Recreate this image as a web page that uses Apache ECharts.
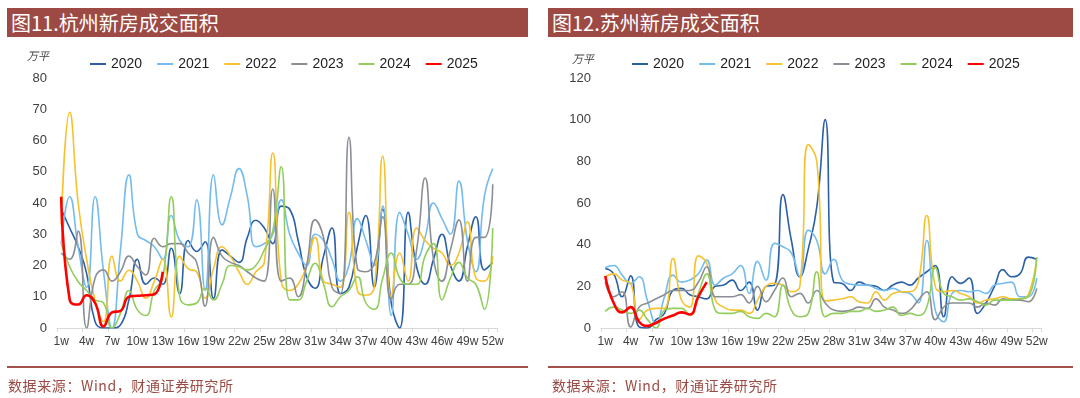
<!DOCTYPE html>
<html>
<head>
<meta charset="utf-8">
<script src="https://cdn.jsdelivr.net/npm/echarts@6/dist/echarts.min.js"></script>
<style>
  body { margin: 0; background: #fff; }
  #wrap { position: relative; width: 1080px; height: 398px; overflow: hidden; }
  #chart { position: absolute; left: 0; top: 0; width: 1080px; height: 398px; }
  .bar { position: absolute; top: 8px; height: 29px; background: #9c4a43; color: #fff;
         font: 20px "Noto Sans CJK SC"; line-height: 29px; padding-left: 4px; box-sizing: border-box; }
  .foot { position: absolute; top: 366px; height: 2px; background: #a3524b; }
  .src { position: absolute; top: 375px; font: 14px "Noto Sans CJK SC"; letter-spacing: 0.6px; color: #9c4a43; }
  .unit { position: absolute; font: italic 11px "Noto Sans CJK SC"; color: #404040; }
</style>
</head>
<body>
<div id="wrap">
  <div id="chart"></div>
  <div class="bar" style="left:7px;width:521px;">图11.杭州新房成交面积</div>
  <div class="bar" style="left:548px;width:525px;">图12.苏州新房成交面积</div>
  <div class="unit" style="left:27px;top:47px;">万平</div>
  <div class="unit" style="left:572px;top:50px;">万平</div>
  <div class="foot" style="left:7px;width:521px;"></div>
  <div class="foot" style="left:548px;width:525px;"></div>
  <div class="src" style="left:8px;">数据来源：Wind，财通证券研究所</div>
  <div class="src" style="left:552px;">数据来源：Wind，财通证券研究所</div>
</div>
<script>
// 周次
var weeks = [];
for (var i = 1; i <= 52; i++) weeks.push(i + 'w');

var years = ['2020', '2021', '2022', '2023', '2024', '2025'];
var colors = ['#2b5fa6', '#74bcee', '#f6c22e', '#8b8f95', '#92cd5d', '#ff0000'];

// 杭州 (万平)
var hz2020 = [38,32,26,17.5,2,0,0,1,9,22,14,16,14,25.5,11,28,24.5,27.6,9.5,25,23,21,29,34.5,32,27,39,38,28,16.4,12.7,23,32,11,13,26,36,13,38,8,0,37,19.6,14,22,30,20,15,26,35.6,18.6,21];
var hz2021 = [27,42,26,13,42,18,0,25,49,30,28,26,22,36,28,26,41,12,49,33,42,51,42,26,27,30,41,30,24,20,30,28,22,15,20,35,28,20,39,4,37,30,22,29,40,35,30,47,28,18,42,51];
var hz2022 = [33,69,40,22,9,2,23,15,18.5,15,9.5,15,22,3.5,23,19,18,9.5,19,26,23,18,14,18,21,56,15,12,14,20,29,15,14,13,37,12,10.5,13,55,10,24,15,32,28,25.5,24,20,24,34,16,15,23];
var hz2023 = [24,22,31,0,16,18.6,15,18,23,19.6,17,28.7,26,27,27,24,21,7,29,23,21,20,18,16,15,44.5,15,16,10,20,34.6,29,13,11,61,19,18,20.7,35.6,9,14,14,25,48,22,15,25,34.6,15,29,29,46];
var hz2024 = [27,19.6,14.8,12,9,8,0,4.7,12,5.8,4,12,16,42,10,7.4,8,12.7,9,14,20,19.6,18.6,20,25,31,51.6,9,9,15,20.7,14,6.8,10,12,16.4,8,6,16,24,16,14,14,23,27,9,16,21,16,14,6,32];
var hz2025 = [42,9,7.5,10.5,8,0.5,5,5.5,10,10.3,10.5,10.8,18];

// 苏州 (万平)
var sz2020 = [28.6,26,15,25,0.5,0,4,7,18,19,16,15,14,20,20.6,23,18,22,8.6,20,20.6,64,42,24.6,38,58,100,22,21.4,18,22,20.6,20,18,20.6,22,20.6,24,27,30,5.4,24.6,21.4,24,7,12,20,28,24.6,26,34,33];
var sz2021 = [29,30,25.4,21.4,24.6,13,2,15,25.4,22,23,26,32.6,20.6,24,26,30,16.6,32,23,40.6,39,36,24.6,47,42,26,33,23,21,20.6,20.6,19,18,19,17.4,16.6,12,42,8.6,3,16.6,18,17.4,18,16.6,20.6,21.4,22,15,15,24];
var sz2022 = [24.6,26,23,21.4,4,8.6,9.4,9.4,33.4,13.4,10,34.6,31,13.4,10,8.6,8.6,7,13.4,20,21.4,20.6,17.4,20,88,80,13,13.4,14,15,12.6,12,17.4,13.4,16.6,17.4,17.4,22,54,20,17.4,18,16.6,15,12,13.4,14,15,14,14,16,34];
var sz2023 = [22,15,17.4,0.5,10,12,14,16,18,18,18,22,29.4,15,15,15,16,12,20,12.6,18,24,15,16.6,12,18,12,8.6,8,8.6,10,9.4,14,10,8.6,7,8.6,13.4,17.4,4,10,12,12,12,10,12,11,14,13.4,13.4,12.6,19];
var sz2024 = [8,10,8.6,7,8.6,4,0,8.6,9.4,9.4,6.2,16.6,26,8.6,7,7,8,5.4,4.6,7,5.4,20.6,8.6,5.4,7,27,5.4,7,7,8,8,9.4,8,8.6,10,6,7,6,10,29,16.6,15,13.4,14,12.6,11,13.4,13.4,13.4,14,15,34];
var sz2025 = [25,12,7.5,10,3,1,2.5,4.5,6,7.5,6.5,15,22];

var hzData = [hz2020, hz2021, hz2022, hz2023, hz2024, hz2025];
var szData = [sz2020, sz2021, sz2022, sz2023, sz2024, sz2025];

var myChart = echarts.init(document.getElementById('chart'));

function makeSeries(list, idx) {
  return list.map(function (d, k) {
    return {
      name: years[k],
      type: 'line',
      xAxisIndex: idx,
      yAxisIndex: idx,
      data: d,
      smooth: 0.5,
      symbol: 'none',
      z: k == 5 ? 10 : 2,
      lineStyle: { color: colors[k], width: k == 5 ? 2.6 : 1.6 },
      itemStyle: { color: colors[k] }
    };
  });
}

function makeX(idx) {
  return {
    type: 'category',
    gridIndex: idx,
    data: weeks,
    boundaryGap: true,
    axisLine: { lineStyle: { color: '#d9d9d9', width: 1 } },
    axisTick: { show: true, interval: 2, length: 4, lineStyle: { color: '#d9d9d9' } },
    axisLabel: { interval: 2, color: '#404040', fontSize: 12, margin: 8, fontFamily: 'Liberation Sans' }
  };
}

function makeY(idx, max, step) {
  return {
    type: 'value',
    gridIndex: idx,
    min: 0,
    max: max,
    interval: step,
    splitLine: { show: false },
    axisLine: { show: false },
    axisTick: { show: false },
    axisLabel: { color: '#404040', fontSize: 13, margin: 10, fontFamily: 'Liberation Sans' }
  };
}

function makeLegend(left) {
  return {
    left: left,
    top: 52,
    data: years,
    icon: 'rect',
    itemWidth: 16,
    itemHeight: 2,
    itemGap: 15,
    textStyle: { color: '#1f1f1f', fontSize: 14, fontFamily: 'Liberation Sans' }
  };
}

var option = {
  animation: false,
  color: colors,
  legend: [makeLegend(85), makeLegend(627)],
  grid: [
    { left: 57, top: 78, width: 440, height: 250 },
    { left: 601, top: 78, width: 440, height: 250 }
  ],
  xAxis: [makeX(0), makeX(1)],
  yAxis: [makeY(0, 80, 10), makeY(1, 120, 20)],
  series: makeSeries(hzData, 0).concat(makeSeries(szData, 1))
};
myChart.setOption(option);
</script>
</body>
</html>
